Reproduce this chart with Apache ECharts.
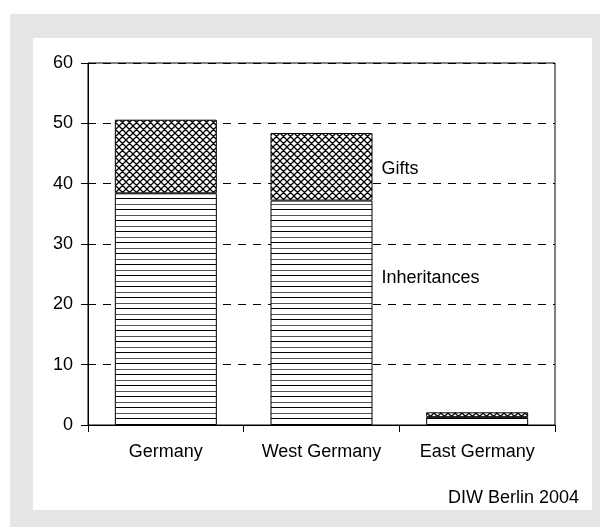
<!DOCTYPE html>
<html>
<head>
<meta charset="utf-8">
<script src="https://cdn.jsdelivr.net/npm/echarts@6/dist/echarts.min.js"></script>
<style>
  html, body { margin: 0; padding: 0; background: #fff; }
  #chart { width: 600px; height: 527px; }
</style>
</head>
<body>
<div id="chart"></div>
<script>
// Volume of inheritances and gifts (billion euro)
const categories = ['Germany', 'West Germany', 'East Germany'];
const inheritances = [38.4, 37.2, 1.3];
const gifts = [12.2, 11.2, 0.8];
const yTicks = [0, 10, 20, 30, 40, 50, 60];
const seriesNames = ['Inheritances', 'Gifts'];
const sourceNote = 'DIW Berlin 2004';

const FONT = '"Liberation Sans", Arial, Helvetica, sans-serif';

// Horizontal line fill for inheritances
function lineFill() {
  const c = document.createElement('canvas');
  c.width = 8; c.height = 11;
  const g = c.getContext('2d');
  g.fillStyle = '#fff'; g.fillRect(0, 0, 8, 11);
  g.fillStyle = '#000'; g.fillRect(0, 0, 8, 1);
  g.fillStyle = '#555'; g.fillRect(0, 6, 8, 1);
  return c;
}

// Diagonal cross-hatch fill for gifts
function crossFill() {
  const n = 7;
  const c = document.createElement('canvas');
  c.width = n; c.height = n;
  const g = c.getContext('2d');
  g.fillStyle = '#fff'; g.fillRect(0, 0, n, n);
  g.strokeStyle = '#000'; g.lineWidth = 1.3;
  g.beginPath();
  for (let k = -1; k <= 1; k++) {
    g.moveTo(k * n, 0); g.lineTo(k * n + n, n);
    g.moveTo(k * n + n, 0); g.lineTo(k * n, n);
  }
  g.stroke();
  return c;
}

const westIdx = categories.indexOf('West Germany');

function withLabel(values, label) {
  return values.map((v, i) => i === westIdx ? { value: v, label: label } : v);
}

const chart = echarts.init(document.getElementById('chart'), null, { renderer: 'canvas' });

chart.setOption({
  animation: false,
  backgroundColor: '#fff',
  textStyle: { fontFamily: FONT },
  graphic: [
    { type: 'rect', z: -20, shape: { x: 10, y: 14, width: 590, height: 513 }, style: { fill: '#e5e5e5' } },
    { type: 'rect', z: -19, shape: { x: 33, y: 38, width: 559, height: 472 }, style: { fill: '#fff' } }
  ],
  title: {
    text: sourceNote,
    right: 21,
    top: 489,
    padding: 0,
    textStyle: { fontFamily: FONT, fontSize: 18, fontWeight: 'normal', color: '#000', lineHeight: 18 }
  },
  grid: {
    left: 88, right: 45, top: 63, bottom: 102,
    show: true, borderColor: '#000', borderWidth: 1, backgroundColor: 'transparent'
  },
  xAxis: {
    type: 'category',
    data: categories,
    axisLine: { lineStyle: { color: '#000', width: 1 } },
    axisTick: { show: true, alignWithLabel: false, length: 7, lineStyle: { color: '#000' } },
    axisLabel: { color: '#000', fontSize: 18, fontFamily: FONT, margin: 18 },
    splitLine: { show: false }
  },
  yAxis: {
    type: 'value',
    min: yTicks[0],
    max: yTicks[yTicks.length - 1],
    interval: yTicks[1] - yTicks[0],
    axisLine: { show: true, lineStyle: { color: '#000', width: 1 } },
    axisTick: { show: true, length: 7, lineStyle: { color: '#000' } },
    axisLabel: { color: '#000', fontSize: 18, fontFamily: FONT, margin: 15 },
    splitLine: { show: true, lineStyle: { color: '#000', width: 1, type: [8, 7] } }
  },
  series: [
    {
      name: seriesNames[0],
      type: 'bar',
      stack: 'total',
      barWidth: 102,
      data: withLabel(inheritances, {
        show: true, position: 'right', distance: 9, offset: [0, -35],
        formatter: seriesNames[0], color: '#000', fontSize: 18, fontFamily: FONT
      }),
      itemStyle: { color: { image: lineFill(), repeat: 'repeat' }, borderColor: '#000', borderWidth: 1 },
      emphasis: { disabled: true }
    },
    {
      name: seriesNames[1],
      type: 'bar',
      stack: 'total',
      barWidth: 102,
      data: withLabel(gifts, {
        show: true, position: 'right', distance: 9, offset: [0, 2],
        formatter: seriesNames[1], color: '#000', fontSize: 18, fontFamily: FONT
      }),
      itemStyle: { color: { image: crossFill(), repeat: 'repeat' }, borderColor: '#000', borderWidth: 1 },
      emphasis: { disabled: true }
    }
  ]
});
</script>
</body>
</html>
